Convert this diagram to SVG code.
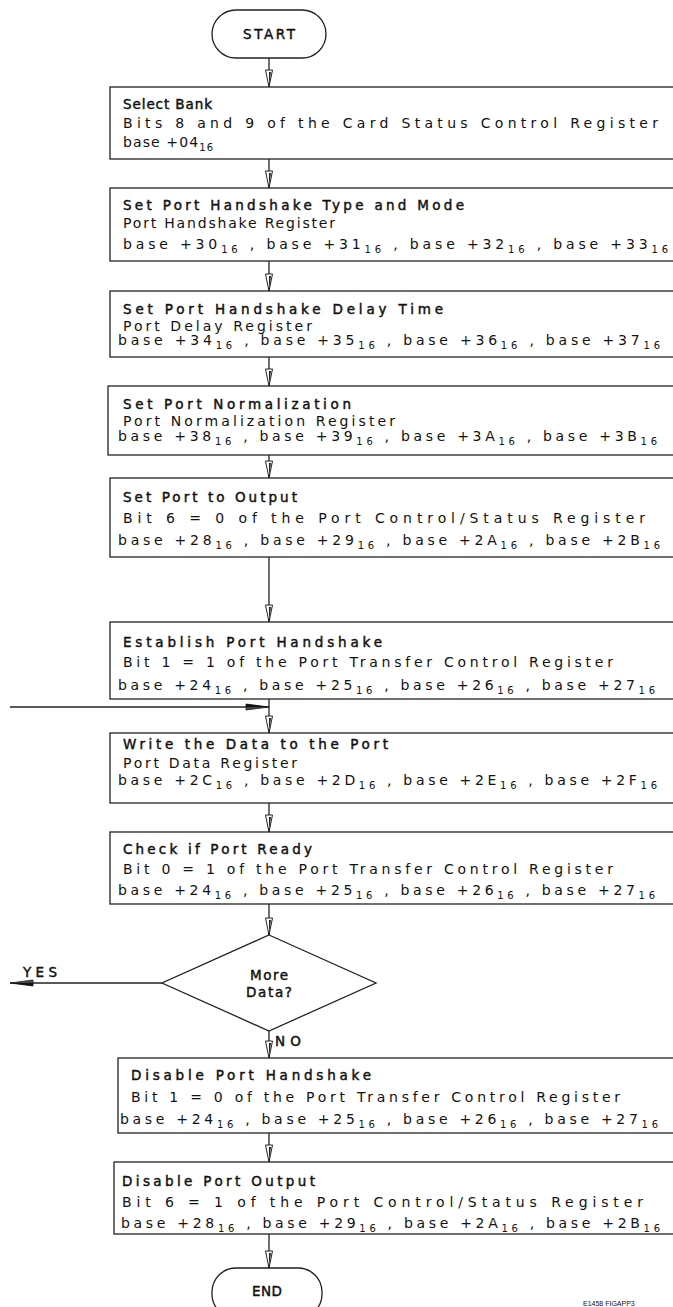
<svg xmlns="http://www.w3.org/2000/svg" width="673" height="1307" viewBox="0 0 673 1307">
<style>
.bx{fill:#fff;stroke:#222;stroke-width:1.3}
.ln{fill:none;stroke:#222;stroke-width:1.3}
.t{font-family:"DejaVu Sans","Liberation Sans",sans-serif;font-size:14px;fill:#111}
.h{font-family:"DejaVu Sans","Liberation Sans",sans-serif;font-size:13.5px;fill:#111;stroke:#111;stroke-width:0.45}
.s{font-size:10px}
.c{text-anchor:middle}
.lab{font-family:"Liberation Sans",Arial,sans-serif;font-size:7px;fill:#111}
</style>
<defs>
<marker id="ad" markerUnits="userSpaceOnUse" markerWidth="20" markerHeight="10" viewBox="-18 -5 20 10" refX="0" refY="0" orient="auto">
<path d="M-17,-3.5 L0,0 L-17,3.5 Z" fill="#fff" stroke="#222" stroke-width="1"/>
<path d="M-15,-2 L-1,0 L-15,0 Z" fill="#222"/>
</marker>
<marker id="ah" markerUnits="userSpaceOnUse" markerWidth="26" markerHeight="10" viewBox="-24 -5 26 10" refX="0" refY="0" orient="auto">
<path d="M-23,-3 L0,0 L-23,3 Z" fill="#444" stroke="#222" stroke-width="0.8"/>
<path d="M-23,-3 L0,0 L-23,0 Z" fill="#111"/>
</marker>
</defs>

<g id="connectors">
<line class="ln" x1="269" y1="58" x2="269" y2="87" marker-end="url(#ad)"/>
<line class="ln" x1="269" y1="159" x2="269" y2="188" marker-end="url(#ad)"/>
<line class="ln" x1="269" y1="261" x2="269" y2="291" marker-end="url(#ad)"/>
<line class="ln" x1="269" y1="357" x2="269" y2="386" marker-end="url(#ad)"/>
<line class="ln" x1="269" y1="455" x2="269" y2="478" marker-end="url(#ad)"/>
<line class="ln" x1="269" y1="557" x2="269" y2="622" marker-end="url(#ad)"/>
<line class="ln" x1="269" y1="699" x2="269" y2="733" marker-end="url(#ad)"/>
<line class="ln" x1="10" y1="707" x2="269" y2="707" marker-end="url(#ah)"/>
<line class="ln" x1="269" y1="803" x2="269" y2="832" marker-end="url(#ad)"/>
<line class="ln" x1="269" y1="904" x2="269" y2="935" marker-end="url(#ad)"/>
<line class="ln" x1="162" y1="983" x2="10" y2="983" marker-end="url(#ah)"/>
<line class="ln" x1="269" y1="1031" x2="269" y2="1058" marker-end="url(#ad)"/>
<line class="ln" x1="269" y1="1133" x2="269" y2="1162" marker-end="url(#ad)"/>
<line class="ln" x1="269" y1="1234" x2="269" y2="1268" marker-end="url(#ad)"/>
<text class="h" x="23" y="977" textLength="34" lengthAdjust="spacing">YES</text>
<text class="h" x="275" y="1046" textLength="26" lengthAdjust="spacing">NO</text>
</g>

<g id="start">
<rect class="bx" x="212" y="10" width="114" height="48" rx="24"/>
<text class="h c" x="269" y="39" textLength="52" lengthAdjust="spacing">START</text>
</g>

<g id="select-bank">
<rect class="bx" x="110" y="87" width="600" height="72"/>
<text class="h" x="123" y="109" textLength="89" lengthAdjust="spacing">Select Bank</text>
<text class="t" x="123" y="128" textLength="535" lengthAdjust="spacing">Bits 8 and 9 of the Card Status Control Register</text>
<text class="t" x="123" y="147" textLength="90" lengthAdjust="spacing">base +04<tspan class="s" dy="4">16</tspan></text>
</g>

<g id="handshake-type">
<rect class="bx" x="110" y="188" width="600" height="73"/>
<text class="h" x="123" y="210" textLength="341" lengthAdjust="spacing">Set Port Handshake Type and Mode</text>
<text class="t" x="123" y="228" textLength="212" lengthAdjust="spacing">Port Handshake Register</text>
<text class="t" x="123" y="249" textLength="545" lengthAdjust="spacing">base +30<tspan class="s" dy="4">16</tspan><tspan dy="-4"> , base +31</tspan><tspan class="s" dy="4">16</tspan><tspan dy="-4"> , base +32</tspan><tspan class="s" dy="4">16</tspan><tspan dy="-4"> , base +33</tspan><tspan class="s" dy="4">16</tspan></text>
</g>

<g id="handshake-delay">
<rect class="bx" x="110" y="291" width="600" height="66"/>
<text class="h" x="123" y="314" textLength="320" lengthAdjust="spacing">Set Port Handshake Delay Time</text>
<text class="t" x="123" y="331" textLength="189" lengthAdjust="spacing">Port Delay Register</text>
<text class="t" x="118" y="345" textLength="542" lengthAdjust="spacing">base +34<tspan class="s" dy="4">16</tspan><tspan dy="-4"> , base +35</tspan><tspan class="s" dy="4">16</tspan><tspan dy="-4"> , base +36</tspan><tspan class="s" dy="4">16</tspan><tspan dy="-4"> , base +37</tspan><tspan class="s" dy="4">16</tspan></text>
</g>

<g id="normalization">
<rect class="bx" x="108" y="386" width="600" height="69"/>
<text class="h" x="123" y="409" textLength="228" lengthAdjust="spacing">Set Port Normalization</text>
<text class="t" x="123" y="426" textLength="272" lengthAdjust="spacing">Port Normalization Register</text>
<text class="t" x="118" y="441" textLength="539" lengthAdjust="spacing">base +38<tspan class="s" dy="4">16</tspan><tspan dy="-4"> , base +39</tspan><tspan class="s" dy="4">16</tspan><tspan dy="-4"> , base +3A</tspan><tspan class="s" dy="4">16</tspan><tspan dy="-4"> , base +3B</tspan><tspan class="s" dy="4">16</tspan></text>
</g>

<g id="port-output">
<rect class="bx" x="110" y="478" width="600" height="79"/>
<text class="h" x="123" y="502" textLength="174" lengthAdjust="spacing">Set Port to Output</text>
<text class="t" x="123" y="523" textLength="522" lengthAdjust="spacing">Bit 6 = 0 of the Port Control/Status Register</text>
<text class="t" x="118" y="545" textLength="542" lengthAdjust="spacing">base +28<tspan class="s" dy="4">16</tspan><tspan dy="-4"> , base +29</tspan><tspan class="s" dy="4">16</tspan><tspan dy="-4"> , base +2A</tspan><tspan class="s" dy="4">16</tspan><tspan dy="-4"> , base +2B</tspan><tspan class="s" dy="4">16</tspan></text>
</g>

<g id="establish">
<rect class="bx" x="110" y="622" width="600" height="77"/>
<text class="h" x="123" y="647" textLength="259" lengthAdjust="spacing">Establish Port Handshake</text>
<text class="t" x="123" y="667" textLength="490" lengthAdjust="spacing">Bit 1 = 1 of the Port Transfer Control Register</text>
<text class="t" x="118" y="690" textLength="537" lengthAdjust="spacing">base +24<tspan class="s" dy="4">16</tspan><tspan dy="-4"> , base +25</tspan><tspan class="s" dy="4">16</tspan><tspan dy="-4"> , base +26</tspan><tspan class="s" dy="4">16</tspan><tspan dy="-4"> , base +27</tspan><tspan class="s" dy="4">16</tspan></text>
</g>

<g id="write-data">
<rect class="bx" x="110" y="733" width="600" height="70"/>
<text class="h" x="123" y="749" textLength="265" lengthAdjust="spacing">Write the Data to the Port</text>
<text class="t" x="123" y="768" textLength="174" lengthAdjust="spacing">Port Data Register</text>
<text class="t" x="118" y="785" textLength="539" lengthAdjust="spacing">base +2C<tspan class="s" dy="4">16</tspan><tspan dy="-4"> , base +2D</tspan><tspan class="s" dy="4">16</tspan><tspan dy="-4"> , base +2E</tspan><tspan class="s" dy="4">16</tspan><tspan dy="-4"> , base +2F</tspan><tspan class="s" dy="4">16</tspan></text>
</g>

<g id="check-ready">
<rect class="bx" x="110" y="832" width="600" height="72"/>
<text class="h" x="123" y="854" textLength="189" lengthAdjust="spacing">Check if Port Ready</text>
<text class="t" x="123" y="874" textLength="490" lengthAdjust="spacing">Bit 0 = 1 of the Port Transfer Control Register</text>
<text class="t" x="118" y="895" textLength="537" lengthAdjust="spacing">base +24<tspan class="s" dy="4">16</tspan><tspan dy="-4"> , base +25</tspan><tspan class="s" dy="4">16</tspan><tspan dy="-4"> , base +26</tspan><tspan class="s" dy="4">16</tspan><tspan dy="-4"> , base +27</tspan><tspan class="s" dy="4">16</tspan></text>
</g>

<g id="more-data">
<polygon class="bx" points="269,935 376,983 269,1031 162,983"/>
<text class="h c" x="269" y="980" textLength="38" lengthAdjust="spacing">More</text>
<text class="h c" x="269" y="997" textLength="46" lengthAdjust="spacing">Data?</text>
</g>

<g id="disable-handshake">
<rect class="bx" x="118" y="1058" width="600" height="75"/>
<text class="h" x="131" y="1080" textLength="240" lengthAdjust="spacing">Disable Port Handshake</text>
<text class="t" x="131" y="1102" textLength="489" lengthAdjust="spacing">Bit 1 = 0 of the Port Transfer Control Register</text>
<text class="t" x="120" y="1124" textLength="538" lengthAdjust="spacing">base +24<tspan class="s" dy="4">16</tspan><tspan dy="-4"> , base +25</tspan><tspan class="s" dy="4">16</tspan><tspan dy="-4"> , base +26</tspan><tspan class="s" dy="4">16</tspan><tspan dy="-4"> , base +27</tspan><tspan class="s" dy="4">16</tspan></text>
</g>

<g id="disable-output">
<rect class="bx" x="114" y="1162" width="600" height="72"/>
<text class="h" x="122" y="1186" textLength="193" lengthAdjust="spacing">Disable Port Output</text>
<text class="t" x="122" y="1207" textLength="521" lengthAdjust="spacing">Bit 6 = 1 of the Port Control/Status Register</text>
<text class="t" x="121" y="1228" textLength="539" lengthAdjust="spacing">base +28<tspan class="s" dy="4">16</tspan><tspan dy="-4"> , base +29</tspan><tspan class="s" dy="4">16</tspan><tspan dy="-4"> , base +2A</tspan><tspan class="s" dy="4">16</tspan><tspan dy="-4"> , base +2B</tspan><tspan class="s" dy="4">16</tspan></text>
</g>

<g id="end">
<rect class="bx" x="212" y="1268" width="110" height="50" rx="24"/>
<text class="h c" x="267" y="1296" textLength="30" lengthAdjust="spacing">END</text>
</g>

<text class="lab" x="583" y="1306">E1458 FIGAPP3</text>
</svg>
